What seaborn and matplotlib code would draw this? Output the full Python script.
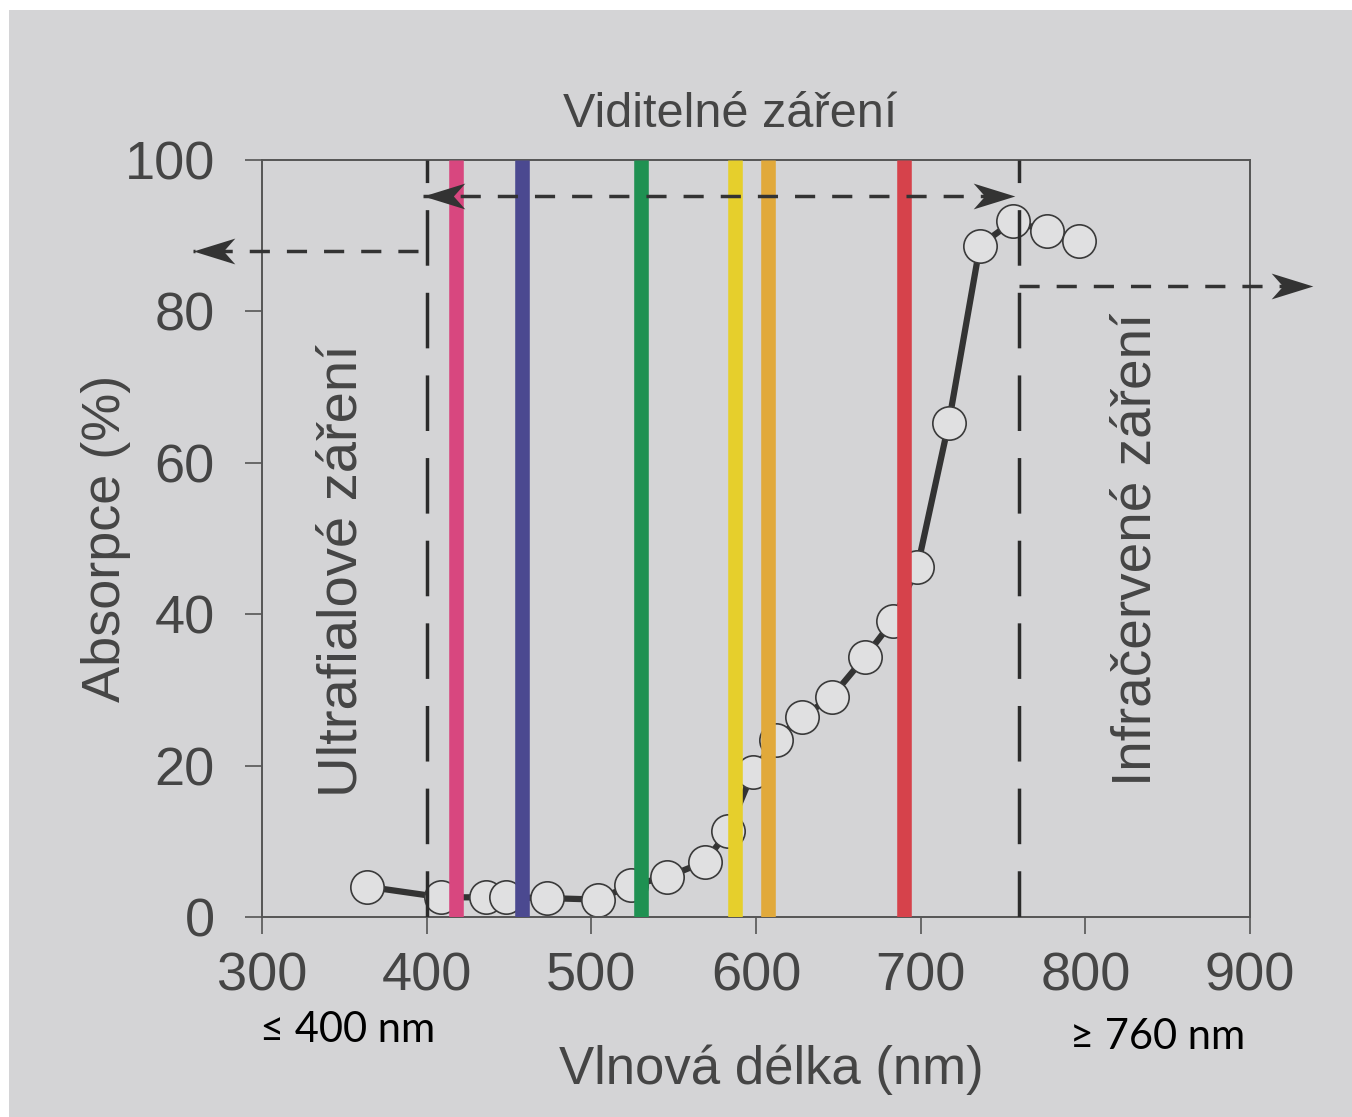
import matplotlib
matplotlib.use("Agg")
import matplotlib.pyplot as plt
import seaborn as sns
import pandas as pd
from matplotlib.patches import Rectangle
from matplotlib.path import Path

# =========================
# data
# =========================
wavelength = [364, 409, 436, 448, 473, 504, 524, 546, 569, 583, 598,
              612, 628, 646, 666, 683, 698, 717, 736, 756, 777, 796]
absorption = [4.0, 2.6, 2.6, 2.6, 2.5, 2.3, 4.2, 5.3, 7.3, 11.3, 19.1,
              23.4, 26.4, 29.1, 34.3, 39.1, 46.2, 65.2, 88.7, 91.9, 90.6, 89.3]

band_nm = [418, 458, 530, 587, 607, 690]
band_colors = ["#d8477f", "#4b4990", "#1f9152", "#e6cf2c", "#e1a93b", "#d6424b"]

uv_limit = 400
ir_limit = 760
visible_arrow_y = 95.2
uv_arrow_y = 88
ir_arrow_y = 83.4

x_ticks = [300, 400, 500, 600, 700, 800, 900]
y_ticks = [0, 20, 40, 60, 80, 100]

df = pd.DataFrame({"nm": wavelength, "abs": absorption})

# =========================
# style
# =========================
bg = "#d4d4d6"
ink = "#454545"
sns.set_theme(style="ticks")
plt.rcParams["font.family"] = ["Liberation Sans", "DejaVu Sans"]

fig = plt.figure(figsize=(13.52, 11.17), dpi=100, facecolor=bg)
ax = fig.add_axes([262 / 1352, 1 - 917 / 1117, 988 / 1352, 757 / 1117])
ax.set_facecolor(bg)

# white photo border
fig.patches.append(Rectangle((0, 1 - 10 / 1117), 1, 10 / 1117, transform=fig.transFigure,
                             facecolor="white", edgecolor="none", zorder=-5))
fig.patches.append(Rectangle((0, 0), 9 / 1352, 1, transform=fig.transFigure,
                             facecolor="white", edgecolor="none", zorder=-5))

# ----------------------------
# measured curve
# ----------------------------
sns.lineplot(data=df, x="nm", y="abs", ax=ax, color="#333333", linewidth=4.5,
             marker="o", markersize=24, markerfacecolor="#e0e0e1",
             markeredgecolor="#3a3a3a", markeredgewidth=1.2, zorder=2,
             clip_on=False)

# ----------------------------
# colour bands
# ----------------------------
for nm, c in zip(band_nm, band_colors):
    ax.plot([nm, nm], [0, 100], color=c, linewidth=10.5, solid_capstyle="butt", zorder=3)

# ----------------------------
# region boundaries
# ----------------------------
long_dash = (9.5, (16, 7.8))
for nm in (uv_limit, ir_limit):
    ax.plot([nm, nm], [100, 0], color="#2b2b2b", linewidth=2.5,
            linestyle=long_dash, zorder=4)

# concave (barbed) arrow heads
codes = [Path.MOVETO, Path.LINETO, Path.LINETO, Path.LINETO, Path.CLOSEPOLY]
head_right = Path([(1, 0), (-1, 0.62), (-0.45, 0), (-1, -0.62), (1, 0)], codes)
head_left = Path([(-1, 0), (1, 0.62), (0.45, 0), (1, -0.62), (-1, 0)], codes)
head_size = 30      # points
head_half = 12.6    # half of head length, in nm on this x scale

short_dash = (0, (5.8, 4.9))

def dashed_arrow(x0, x1, y, both=False):
    ax.plot([x0, x1], [y, y], color="#333333", linewidth=2.5, linestyle=short_dash,
            clip_on=False, zorder=4)
    right = x1 > x0
    ends = [(x1, right)]
    if both:
        ends.append((x0, not right))
    for tip, to_right in ends:
        cx = tip - head_half if to_right else tip + head_half
        ax.plot([cx], [y], linestyle="none",
                marker=head_right if to_right else head_left,
                markersize=head_size, color="#333333", markeredgewidth=0,
                clip_on=False, zorder=5)

dashed_arrow(uv_limit - 2, 757, visible_arrow_y, both=True)
dashed_arrow(uv_limit - 5, 258, uv_arrow_y)
dashed_arrow(ir_limit, 938, ir_arrow_y)

# ----------------------------
# text
# ----------------------------
ax.text(584, 104.3, "Viditelné záření", ha="center", va="baseline",
        fontsize=35, color=ink, clip_on=False)
ax.text(349, 45.8, "Ultrafialové záření", ha="center", va="center",
        rotation=90, fontsize=40.5, color=ink)
ax.text(831, 48.6, "Infračervené záření", ha="center", va="center",
        rotation=90, fontsize=39.5, color=ink)

ax.set_xlim(300, 900)
ax.set_ylim(0, 100)
ax.set_xticks(x_ticks)
ax.set_yticks(y_ticks)
ax.tick_params(axis="both", direction="out", length=12, width=1.2, color="#555555",
               labelsize=39, labelcolor=ink)
ax.tick_params(axis="y", pad=22)
ax.tick_params(axis="x", pad=13)
for s in ax.spines.values():
    s.set_visible(True)
    s.set_color("#555555")
    s.set_linewidth(1.4)

ax.set_xlabel("Vlnová délka (nm)", fontsize=38, color=ink)
ax.set_ylabel("Absorpce (%)", fontsize=39, color=ink)
ax.xaxis.set_label_coords(0.515, -0.168)
ax.yaxis.set_label_coords(-0.133, 0.5)

fig.text(348 / 1352, 1 - 1030 / 1117, "≤ 400 nm", ha="center", va="center",
         fontsize=30, color="black", family=["Lato", "DejaVu Sans"])
fig.text(1158 / 1352, 1 - 1037 / 1117, "≥ 760 nm", ha="center", va="center",
         fontsize=30, color="black", family=["Lato", "DejaVu Sans"])

fig.savefig("out.png", dpi=100, facecolor=bg)
